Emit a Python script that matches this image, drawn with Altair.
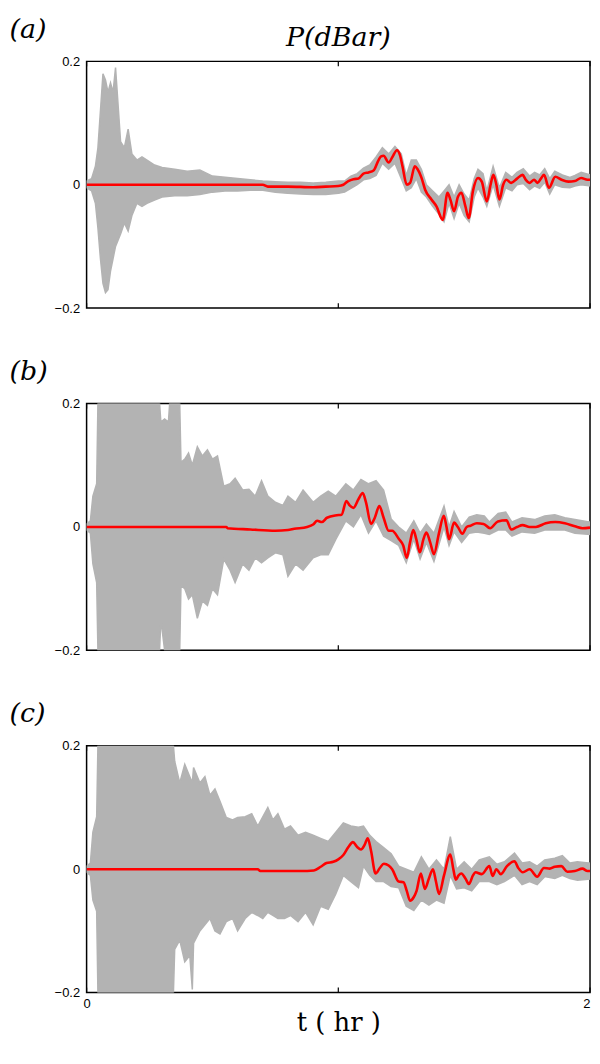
import altair as alt
import pandas as pd

# ---------------- data ----------------
X_TICKS = [0, 1, 2]
Y_TICKS = [-0.2, 0, 0.2]
PANEL_LABELS = ["(a)", "(b)", "(c)"]
TOP_TITLE = ["P(dBar)"]

# gray band (t [hr], upper, lower)
A_GRAY = [
    (0, 0.006, -0.005), (0.02, 0.01, -0.01), (0.035, 0.03, -0.03), (0.045, 0.06, -0.07),
    (0.055, 0.12, -0.12), (0.065, 0.18, -0.16), (0.075, 0.17, -0.175), (0.085, 0.15, -0.17),
    (0.095, 0.165, -0.14), (0.105, 0.15, -0.12), (0.115, 0.19, -0.10), (0.125, 0.13, -0.09),
    (0.135, 0.07, -0.08), (0.15, 0.06, -0.062), (0.165, 0.09, -0.075), (0.18, 0.05, -0.05),
    (0.2, 0.04, -0.03), (0.22, 0.045, -0.035), (0.24, 0.04, -0.03), (0.27, 0.032, -0.025),
    (0.3, 0.028, -0.02), (0.35, 0.025, -0.018), (0.4, 0.022, -0.018), (0.45, 0.024, -0.016),
    (0.5, 0.014, -0.012), (0.55, 0.012, -0.01), (0.6, 0.01, -0.01), (0.65, 0.008, -0.009),
    (0.7, 0.006, -0.009), (0.75, 0.005, -0.012), (0.8, 0.004, -0.014), (0.85, 0.004, -0.015),
    (0.9, 0.003, -0.016), (0.95, 0.004, -0.016), (1.0, 0.006, -0.014), (1.025, 0.006, -0.012),
    (1.05, 0.014, -0.006), (1.075, 0.018, 0.0), (1.1, 0.027, 0.008), (1.125, 0.032, 0.01),
    (1.15, 0.045, 0.015), (1.175, 0.06, 0.035), (1.2, 0.05, 0.025), (1.225, 0.062, 0.035),
    (1.25, 0.05, 0.01), (1.27, 0.015, -0.01), (1.29, 0.04, -0.005), (1.31, 0.04, 0.01),
    (1.33, 0.025, -0.012), (1.35, 0.0, -0.02), (1.375, -0.01, -0.035), (1.4, -0.02, -0.048),
    (1.42, -0.01, -0.06), (1.44, 0.0, -0.03), (1.46, -0.02, -0.055), (1.48, 0.0, -0.03),
    (1.5, -0.015, -0.05), (1.52, -0.025, -0.06), (1.54, 0.01, -0.02), (1.555, 0.025, -0.005),
    (1.575, 0.018, -0.02), (1.59, -0.01, -0.035), (1.615, 0.03, 0.0), (1.64, -0.005, -0.035),
    (1.665, 0.02, -0.005), (1.69, 0.012, -0.01), (1.71, 0.02, 0.0), (1.735, 0.026, 0.002),
    (1.76, 0.014, -0.008), (1.78, 0.02, -0.002), (1.8, 0.016, -0.006), (1.82, 0.026, 0.004),
    (1.84, 0.01, -0.015), (1.86, 0.022, 0.0), (1.89, 0.016, -0.004), (1.92, 0.012, -0.005),
    (1.94, 0.015, -0.002), (1.965, 0.02, 0.0), (2.0, 0.016, -0.002),
]
# red filtered line (t [hr], value)
A_RED = [
    (0, 0), (0.7, 0), (0.72, -0.003), (0.8, -0.003), (0.9, -0.004), (0.95, -0.003), (1.0, -0.002),
    (1.02, 0.0), (1.04, 0.006), (1.06, 0.009), (1.08, 0.01), (1.1, 0.018), (1.12, 0.02),
    (1.14, 0.023), (1.16, 0.04), (1.17, 0.046), (1.18, 0.047), (1.2, 0.036), (1.215, 0.045),
    (1.233, 0.056), (1.245, 0.048), (1.255, 0.03), (1.272, 0.0), (1.285, 0.003), (1.304, 0.03),
    (1.315, 0.025), (1.33, 0.012), (1.345, -0.008), (1.37, -0.024), (1.39, -0.035),
    (1.415, -0.057), (1.434, -0.013), (1.446, -0.025), (1.46, -0.043), (1.475, -0.02),
    (1.489, -0.013), (1.505, -0.035), (1.518, -0.054), (1.535, -0.01), (1.555, 0.011),
    (1.57, 0.005), (1.59, -0.027), (1.605, 0.0), (1.616, 0.016), (1.628, 0.0), (1.64, -0.024),
    (1.655, 0.0), (1.668, 0.008), (1.687, 0.003), (1.71, 0.01), (1.732, 0.016), (1.745, 0.008),
    (1.759, 0.003), (1.778, 0.008), (1.791, 0.003), (1.805, 0.01), (1.817, 0.016),
    (1.837, -0.005), (1.862, 0.013), (1.887, 0.008), (1.914, 0.005), (1.94, 0.006),
    (1.965, 0.011), (1.99, 0.008), (2.0, 0.008),
]

B_GRAY = [
    (0, 0.005, -0.005), (0.015, 0.01, -0.01), (0.025, 0.05, -0.06), (0.04, 0.07, -0.09),
    (0.045, 0.2, -0.2), (0.29, 0.2, -0.2), (0.295, 0.17, -0.15), (0.31, 0.175, -0.2),
    (0.325, 0.17, -0.2), (0.33, 0.2, -0.2), (0.37, 0.2, -0.2), (0.375, 0.105, -0.095),
    (0.39, 0.11, -0.1), (0.405, 0.12, -0.117), (0.42, 0.1, -0.11), (0.44, 0.13, -0.148),
    (0.46, 0.115, -0.12), (0.48, 0.125, -0.127), (0.5, 0.11, -0.1), (0.52, 0.115, -0.11),
    (0.545, 0.066, -0.052), (0.57, 0.07, -0.07), (0.59, 0.079, -0.09), (0.62, 0.06, -0.06),
    (0.645, 0.061, -0.07), (0.67, 0.05, -0.05), (0.695, 0.075, -0.058), (0.72, 0.05, -0.05),
    (0.75, 0.04, -0.042), (0.78, 0.035, -0.045), (0.8, 0.05, -0.08), (0.83, 0.04, -0.06),
    (0.86, 0.06, -0.07), (0.9, 0.04, -0.05), (0.93, 0.05, -0.045), (0.96, 0.058, -0.045),
    (0.99, 0.05, -0.02), (1.03, 0.07, 0.01), (1.06, 0.06, 0.0), (1.09, 0.077, 0.02),
    (1.12, 0.07, -0.01), (1.15, 0.075, 0.01), (1.18, 0.06, -0.015), (1.21, 0.013, -0.022),
    (1.24, 0.0, -0.03), (1.27, -0.01, -0.058), (1.3, 0.01, -0.02), (1.325, -0.01, -0.052),
    (1.35, 0.005, -0.025), (1.38, -0.01, -0.056), (1.42, 0.034, 0.0), (1.44, 0.0, -0.03),
    (1.46, 0.025, -0.008), (1.49, 0.0, -0.025), (1.52, 0.016, -0.01), (1.55, 0.02, -0.008),
    (1.58, 0.018, -0.01), (1.6, 0.008, -0.012), (1.635, 0.022, -0.005), (1.665, 0.024, -0.005),
    (1.69, 0.008, -0.015), (1.73, 0.015, -0.008), (1.78, 0.012, -0.01), (1.82, 0.018, -0.005),
    (1.86, 0.02, -0.005), (1.9, 0.015, -0.005), (1.94, 0.012, -0.01), (2.0, 0.008, -0.012),
]
B_RED = [
    (0, 0), (0.555, 0), (0.56, -0.002), (0.65, -0.004), (0.75, -0.006), (0.8, -0.005),
    (0.825, -0.003), (0.876, 0.0), (0.9, 0.004), (0.916, 0.01), (0.935, 0.008), (0.955, 0.015),
    (0.994, 0.019), (1.013, 0.02), (1.032, 0.042), (1.045, 0.035), (1.06, 0.031), (1.08, 0.045),
    (1.097, 0.055), (1.11, 0.04), (1.13, 0.005), (1.145, 0.015), (1.163, 0.034), (1.18, 0.015),
    (1.2, -0.006), (1.214, -0.006), (1.24, -0.019), (1.258, -0.03), (1.272, -0.05),
    (1.285, -0.025), (1.298, -0.005), (1.31, -0.02), (1.324, -0.041), (1.338, -0.02),
    (1.35, -0.009), (1.365, -0.025), (1.38, -0.044), (1.4, -0.01), (1.419, 0.018), (1.43, 0.0),
    (1.44, -0.02), (1.46, 0.007), (1.475, 0.0), (1.493, -0.011), (1.51, 0.0), (1.525, 0.002),
    (1.55, 0.006), (1.577, 0.005), (1.603, -0.002), (1.634, 0.009), (1.668, 0.011),
    (1.687, -0.004), (1.71, 0.0), (1.732, 0.003), (1.76, 0.0), (1.785, 0.0), (1.824, 0.006),
    (1.862, 0.008), (1.9, 0.006), (1.94, 0.001), (1.97, -0.002), (2.0, -0.001),
]

C_GRAY = [
    (0, 0.005, -0.005), (0.015, 0.01, -0.01), (0.025, 0.06, -0.05), (0.04, 0.085, -0.068),
    (0.045, 0.2, -0.2), (0.345, 0.2, -0.2), (0.35, 0.175, -0.13), (0.37, 0.14, -0.115),
    (0.39, 0.17, -0.15), (0.41, 0.15, -0.14), (0.42, 0.14, -0.195), (0.425, 0.165, -0.12),
    (0.45, 0.14, -0.1), (0.47, 0.15, -0.09), (0.49, 0.12, -0.08), (0.51, 0.13, -0.1),
    (0.53, 0.11, -0.105), (0.555, 0.084, -0.085), (0.58, 0.08, -0.08), (0.6, 0.084, -0.1),
    (0.63, 0.085, -0.08), (0.656, 0.09, -0.07), (0.68, 0.07, -0.075), (0.7, 0.085, -0.08),
    (0.72, 0.1, -0.07), (0.74, 0.08, -0.075), (0.76, 0.09, -0.08), (0.786, 0.065, -0.08),
    (0.81, 0.07, -0.075), (0.84, 0.055, -0.085), (0.87, 0.06, -0.07), (0.9, 0.055, -0.09),
    (0.93, 0.05, -0.06), (0.96, 0.045, -0.065), (0.99, 0.06, -0.04), (1.02, 0.075, -0.01),
    (1.05, 0.07, -0.02), (1.08, 0.068, -0.03), (1.1, 0.07, 0.005), (1.125, 0.055, -0.01),
    (1.15, 0.045, -0.02), (1.18, 0.035, -0.02), (1.21, 0.025, -0.028), (1.24, 0.005, -0.03),
    (1.27, 0.0, -0.06), (1.3, -0.005, -0.067), (1.33, 0.02, -0.05), (1.36, 0.0, -0.058),
    (1.39, 0.015, -0.05), (1.42, 0.0, -0.055), (1.445, 0.053, -0.01), (1.47, 0.0, -0.032),
    (1.5, 0.012, -0.03), (1.53, 0.0, -0.035), (1.56, 0.015, -0.02), (1.6, 0.02, -0.02),
    (1.63, 0.008, -0.025), (1.66, 0.012, -0.02), (1.7, 0.026, -0.01), (1.73, 0.01, -0.025),
    (1.76, 0.012, -0.02), (1.79, 0.005, -0.025), (1.82, 0.015, -0.012), (1.86, 0.018, -0.015),
    (1.89, 0.022, -0.01), (1.92, 0.01, -0.015), (1.95, 0.012, -0.018), (2.0, 0.01, -0.016),
]
C_RED = [
    (0, 0), (0.68, 0), (0.69, -0.003), (0.85, -0.003), (0.903, -0.002), (0.93, 0.004),
    (0.953, 0.01), (0.98, 0.012), (1.0, 0.016), (1.02, 0.023), (1.04, 0.036), (1.058, 0.044),
    (1.075, 0.036), (1.09, 0.032), (1.105, 0.04), (1.117, 0.05), (1.13, 0.03), (1.148, -0.007),
    (1.165, 0.002), (1.181, 0.009), (1.2, 0.006), (1.214, 0.0), (1.24, -0.02), (1.259, -0.021),
    (1.272, -0.035), (1.285, -0.051), (1.3, -0.045), (1.311, -0.035), (1.328, -0.007),
    (1.344, -0.032), (1.36, -0.015), (1.376, 0.0), (1.388, -0.02), (1.4, -0.04), (1.42, -0.01),
    (1.445, 0.024), (1.457, 0.0), (1.467, -0.017), (1.478, -0.01), (1.489, -0.007),
    (1.505, -0.015), (1.519, -0.024), (1.535, -0.01), (1.545, -0.005), (1.57, -0.008),
    (1.6, 0.005), (1.613, -0.011), (1.628, 0.0), (1.645, -0.008), (1.67, 0.005), (1.7, 0.013),
    (1.715, 0.002), (1.733, -0.005), (1.76, 0.0), (1.79, -0.012), (1.817, 0.002), (1.84, 0.001),
    (1.86, 0.004), (1.886, 0.005), (1.91, -0.004), (1.94, -0.003), (1.97, 0.001), (1.99, -0.003),
    (2.0, -0.003),
]

# ---------------- styling ----------------
GRAY = "#b3b3b3"
RED = "#ff0000"
W = 506
H = 248
SERIF = "DejaVu Serif"
SANS = "Liberation Sans"


def panel(label, gray_rows, red_rows, bottom, top_title=False):
    gdf = pd.DataFrame(gray_rows, columns=["t", "hi", "lo"])
    rdf = pd.DataFrame(red_rows, columns=["t", "v"])
    tdf = pd.DataFrame({"t": X_TICKS})

    xscale = alt.Scale(domain=[0, 2], nice=False, zero=False)
    yscale = alt.Scale(domain=[-0.2, 0.2], nice=False, zero=False)

    if bottom:
        xaxis = alt.Axis(values=X_TICKS, format="d", ticks=False, domain=False, grid=False,
                         labelFont=SANS, labelFontSize=13, labelColor="black",
                         labelPadding=5, labelFlush=False,
                         labelAlign=alt.ExprRef(expr="datum.value == 2 ? 'right' : 'center'"),
                         title="t ( hr )", titleFont=SERIF, titleFontSize=26,
                         titleFontWeight="normal", titleColor="black",
                         titleY=38, titleBaseline="alphabetic")
        X = alt.X("t:Q", scale=xscale, axis=xaxis)
    else:
        X = alt.X("t:Q", scale=xscale, axis=None)

    yaxis = alt.Axis(values=Y_TICKS, labelExpr="datum.value == 0 ? '0' : format(datum.value, '.1f')",
                     ticks=False, domain=False, grid=False,
                     labelFont=SANS, labelFontSize=13, labelColor="black", labelPadding=7,
                     title=label, titleAngle=0, titleX=-78, titleY=-24,
                     titleAlign="left", titleBaseline="alphabetic",
                     titleFont=SERIF, titleFontSize=27, titleFontStyle="italic",
                     titleFontWeight="normal", titleColor="black")

    gray = alt.Chart(gdf).mark_area(color=GRAY, stroke=GRAY, strokeWidth=1.5, clip=True,
                                    opacity=1).encode(
        x=X, y=alt.Y("hi:Q", scale=yscale, axis=yaxis), y2="lo:Q")
    red = alt.Chart(rdf).mark_line(color=RED, strokeWidth=2.6, clip=True,
                                   interpolate="monotone").encode(
        x=X, y=alt.Y("v:Q", scale=yscale, axis=yaxis))
    tick_top = alt.Chart(tdf).mark_rule(color="black", strokeWidth=1.2).encode(
        x=X, y=alt.value(0), y2=alt.value(5))
    tick_bot = alt.Chart(tdf).mark_rule(color="black", strokeWidth=1.2).encode(
        x=X, y=alt.value(H), y2=alt.value(H - 5))
    layers = [gray, red, tick_top, tick_bot]
    if top_title:
        ttl = alt.Chart(pd.DataFrame({"txt": TOP_TITLE})).mark_text(
            font=SERIF, fontSize=27, fontStyle="italic", color="black",
            align="center", baseline="alphabetic").encode(
            text="txt:N", x=alt.value(W / 2), y=alt.value(-15))
        layers.append(ttl)
    return alt.layer(*layers).properties(width=W, height=H)


pa = panel(PANEL_LABELS[0], A_GRAY, A_RED, False, top_title=True)
pb = panel(PANEL_LABELS[1], B_GRAY, B_RED, False)
pc = panel(PANEL_LABELS[2], C_GRAY, C_RED, True)

chart = alt.vconcat(pa, pb, pc, spacing=96, bounds="flush").properties(
    padding={"left": 0, "top": 4, "right": 0, "bottom": 0}
).configure(background="white").configure_view(stroke="black", strokeWidth=1.5)

chart.save("out.html", embed_options={"renderer": "svg", "actions": False})
